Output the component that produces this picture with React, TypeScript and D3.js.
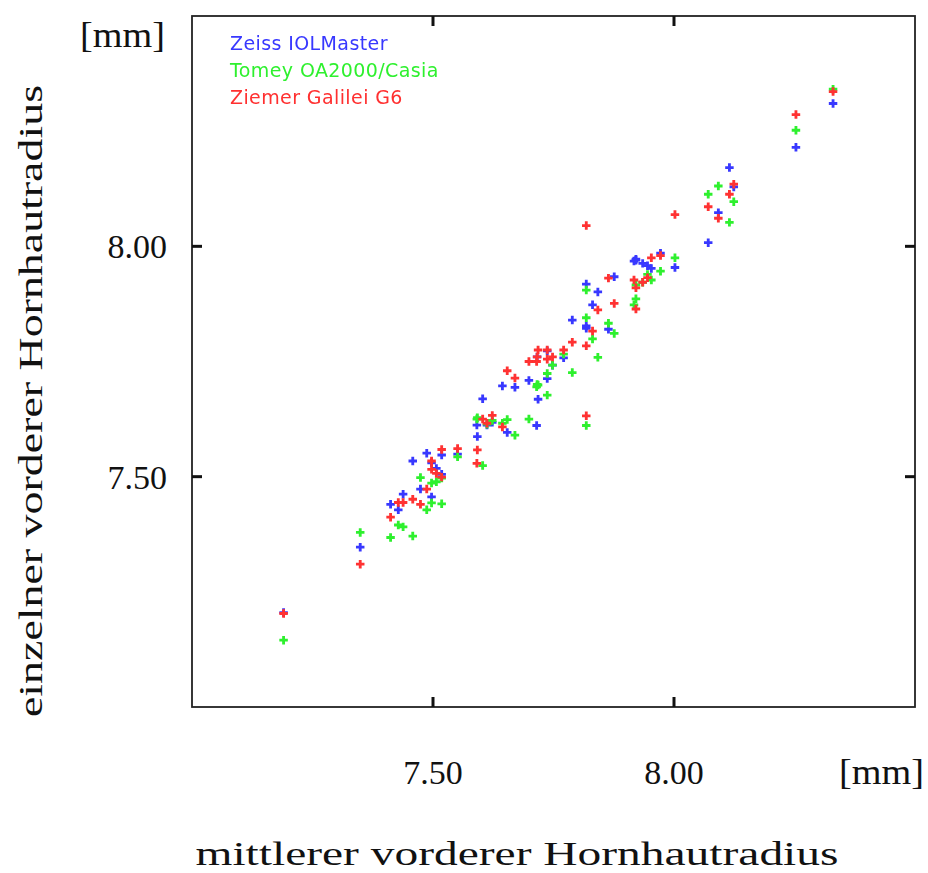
import React from "react";
import * as d3 from "d3";

// mean anterior corneal radius (x) per eye, and single-device values (y)
const meanRadius = [
  7.190, 7.349, 7.412, 7.428, 7.438, 7.458, 7.474, 7.487, 7.497, 7.497,
  7.507, 7.518, 7.518, 7.551, 7.591, 7.592, 7.603, 7.612, 7.623, 7.644,
  7.654, 7.670, 7.699, 7.715, 7.718, 7.716, 7.737, 7.737, 7.748, 7.771,
  7.789, 7.818, 7.818, 7.818, 7.831, 7.842, 7.864, 7.876, 7.921, 7.917,
  7.921, 7.935, 7.945, 7.953, 7.972, 8.002, 8.071, 8.092, 8.115, 8.124,
  8.253, 8.330,
];
const zeiss = [
  7.205, 7.347, 7.440, 7.428, 7.462, 7.534, 7.473, 7.551, 7.456, 7.530,
  7.518, 7.547, 7.505, 7.549, 7.612, 7.587, 7.669, 7.612, 7.618, 7.697,
  7.596, 7.694, 7.709, 7.611, 7.668, 7.760, 7.713, 7.773, 7.742, 7.758,
  7.840, 7.918, 7.827, 7.822, 7.873, 7.901, 7.820, 7.934, 7.972, 7.968,
  7.970, 7.963, 7.958, 7.952, 7.985, 7.954, 8.008, 8.073, 8.171, 8.129,
  8.215, 8.310,
];
const tomey = [
  7.145, 7.379, 7.368, 7.395, 7.391, 7.371, 7.498, 7.428, 7.486, 7.443,
  7.489, 7.441, 7.497, 7.543, 7.625, 7.628, 7.524, 7.614, 7.622, 7.616,
  7.624, 7.590, 7.625, 7.695, 7.699, 7.700, 7.724, 7.677, 7.742, 7.766,
  7.726, 7.905, 7.611, 7.845, 7.799, 7.759, 7.833, 7.811, 7.886, 7.873,
  7.916, 7.922, 7.939, 7.927, 7.946, 7.975, 8.113, 8.131, 8.052, 8.097,
  8.252, 8.341,
];
const ziemer = [
  7.203, 7.310, 7.412, 7.444, 7.444, 7.451, 7.440, 7.473, 7.534, 7.516,
  7.507, 7.559, 7.499, 7.561, 7.529, 7.558, 7.625, 7.616, 7.633, 7.608,
  7.730, 7.714, 7.750, 7.750, 7.775, 7.760, 7.775, 7.755, 7.760, 7.775,
  7.792, 7.632, 8.045, 7.784, 7.816, 7.862, 7.931, 7.876, 7.910, 7.927,
  7.864, 7.922, 7.932, 7.975, 7.980, 8.069, 8.086, 8.061, 8.113, 8.135,
  8.286, 8.336,
];

const seriesNames = ["Zeiss IOLMaster", "Tomey OA2000/Casia", "Ziemer Galilei G6"];
const seriesColors = ["#3838ff", "#2ef02e", "#ff3030"];
const seriesValues = [zeiss, tomey, ziemer];

const tickValues = [7.5, 8.0];
const xTitle = "mittlerer vorderer Hornhautradius";
const yTitle = "einzelner vorderer Hornhautradius";
const unitLabel = "[mm]";

const W = 928;
const H = 873;
const L = 192, R = 915, T = 16, B = 707;

export default function App() {
  const x = d3.scaleLinear().domain([7.0, 8.5]).range([L, R]);
  const y = d3.scaleLinear().domain([7.0, 8.5]).range([B, T]);
  const fmt = d3.format(".2f");
  const sym = d3.symbol().type(d3.symbolCross).size(40)();
  const serif = "'Liberation Serif', 'DejaVu Serif', serif";
  const sans = "'DejaVu Sans', sans-serif";
  const tickLen = 10;

  return (
    <svg width={W} height={H} style={{ position: "absolute", left: 0, top: 0, background: "#fff" }}>
      <defs>
        <filter id="soft" x="-50%" y="-50%" width="200%" height="200%">
          <feGaussianBlur stdDeviation="0.65" />
        </filter>
      </defs>
      <rect x={0} y={0} width={W} height={H} fill="#fff" />
      {/* frame */}
      <rect x={L} y={T} width={R - L} height={B - T} fill="none" stroke="#222" strokeWidth={1.8} />
      {/* ticks */}
      {tickValues.map((t) => (
        <g key={"t" + t} stroke="#111" strokeWidth={3}>
          <line x1={x(t)} x2={x(t)} y1={B} y2={B - tickLen} />
          <line x1={x(t)} x2={x(t)} y1={T} y2={T + tickLen} />
          <line x1={L} x2={L + tickLen} y1={y(t)} y2={y(t)} />
          <line x1={R} x2={R - tickLen} y1={y(t)} y2={y(t)} />
        </g>
      ))}
      {/* tick labels */}
      {tickValues.map((t) => (
        <text key={"yl" + t} x={167} y={y(t)} dy="0.35em" textAnchor="end"
          fontFamily={serif} fontSize={34} fill="#111">{fmt(t)}</text>
      ))}
      {tickValues.map((t) => (
        <text key={"xl" + t} x={x(t)} y={772} dy="0.35em" textAnchor="middle"
          fontFamily={serif} fontSize={34} fill="#111">{fmt(t)}</text>
      ))}
      <text x={80} y={35} dy="0.35em" fontFamily={serif} fontSize={35} fill="#111"
        textLength={85} lengthAdjust="spacingAndGlyphs">{unitLabel}</text>
      <text x={839} y={772} dy="0.35em" fontFamily={serif} fontSize={35} fill="#111"
        textLength={85} lengthAdjust="spacingAndGlyphs">{unitLabel}</text>
      {/* axis titles */}
      <text x={517} y={865} textAnchor="middle" fontFamily={serif} fontSize={34} fill="#111"
        textLength={643} lengthAdjust="spacingAndGlyphs">{xTitle}</text>
      <text transform={`translate(42,401) rotate(-90)`} textAnchor="middle" fontFamily={serif} fontSize={34}
        fill="#111" textLength={632} lengthAdjust="spacingAndGlyphs">{yTitle}</text>
      {/* points */}
      <g filter="url(#soft)">
        {seriesValues.map((vals, si) => (
          <g key={"s" + si} fill={seriesColors[si]}>
            {vals.map((v, i) => (
              <path key={i} d={sym} transform={`translate(${x(meanRadius[i])},${y(v)})`} />
            ))}
          </g>
        ))}
      </g>
      {/* legend */}
      {seriesNames.map((n, i) => (
        <text key={n} x={230} y={50 + i * 26.8} fontFamily={sans} fontSize={19} letterSpacing={0.4}
          fill={seriesColors[i]}>{n}</text>
      ))}
    </svg>
  );
}
